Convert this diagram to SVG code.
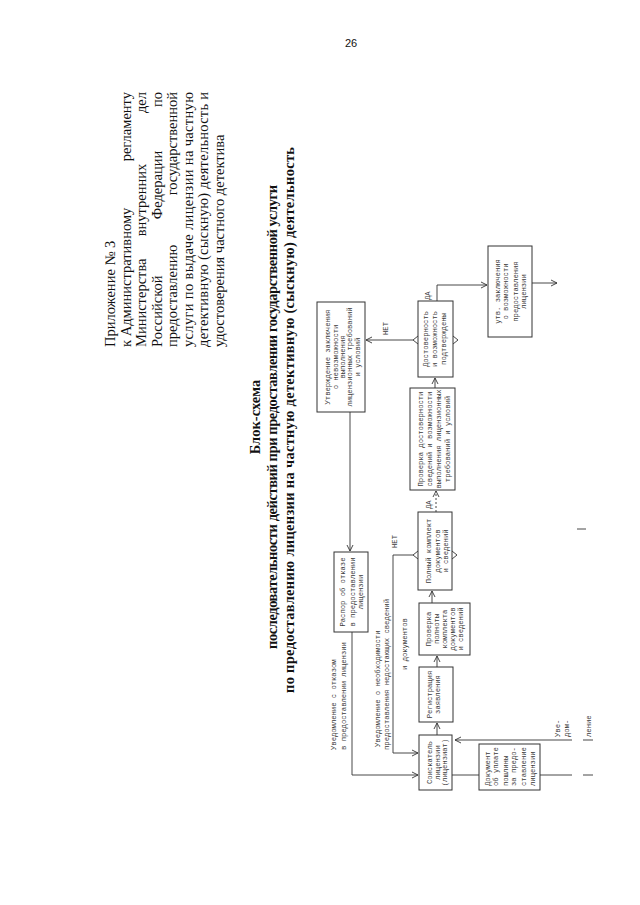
<svg xmlns="http://www.w3.org/2000/svg" width="640" height="905" viewBox="0 0 640 905">
<style>
.hd{font-family:"Liberation Serif",serif;font-size:14.5px;fill:#111}
.tt{font-family:"Liberation Serif",serif;font-size:14.5px;font-weight:bold;fill:#111}
.fc{font-family:"Liberation Mono",monospace;font-size:7.2px;fill:#3a3a3a}
.bx{fill:none;stroke:#333;stroke-width:1}
.ln{fill:none;stroke:#333;stroke-width:0.9}
.ar{fill:none;stroke:#333;stroke-width:0.9}
.dsh{stroke-dasharray:2 2}
</style>
<rect width="640" height="905" fill="#fff"/>
<text x="351" y="47" text-anchor="middle" style="font-family:'Liberation Sans',sans-serif;font-size:11px;fill:#111">26</text>
<g transform="translate(0,905) rotate(-90)">
  <g id="header">
    <text class="hd" x="558" y="115">Приложение № 3</text>
    <text class="hd" x="558" y="130.5">к Административному</text>
    <text class="hd" x="813" y="130.5" text-anchor="end">регламенту</text>
    <text class="hd" x="558" y="146">Министерства</text>
    <text class="hd" x="705" y="146" text-anchor="middle">внутренних</text>
    <text class="hd" x="813" y="146" text-anchor="end">дел</text>
    <text class="hd" x="558" y="161.5">Российской</text>
    <text class="hd" x="720" y="161.5" text-anchor="middle">Федерации</text>
    <text class="hd" x="813" y="161.5" text-anchor="end">по</text>
    <text class="hd" x="558" y="177">предоставлению</text>
    <text class="hd" x="813" y="177" text-anchor="end">государственной</text>
    <text class="hd" x="558" y="192.5" textLength="255" lengthAdjust="spacing">услуги по выдаче лицензии на частную</text>
    <text class="hd" x="558" y="208" textLength="255" lengthAdjust="spacing">детективную (сыскную) деятельность и</text>
    <text class="hd" x="558" y="223.5">удостоверения частного детектива</text>
  </g>
  <g id="title">
    <text class="tt" x="488" y="260" text-anchor="middle">Блок-схема</text>
    <text class="tt" x="256" y="277" textLength="464" lengthAdjust="spacing">последовательности действий при предоставлении государственной услуги</text>
    <text class="tt" x="212" y="294" textLength="546" lengthAdjust="spacing">по предоставлению лицензии на частную детективную (сыскную) деятельность</text>
  </g>
  <g id="connectors">
    <line class="ln" x1="493" y1="350" x2="354" y2="350"/>
    <polyline class="ar" points="360,347 354,350 360,353"/>
    <polyline class="ln" points="273,352 130,352 130,418"/>
    <polyline class="ar" points="127,412 130,418 133,412"/>
    <polyline class="ln" points="350,413 350,393 152,393 152,418"/>
    <polyline class="ar" points="149,412 152,418 155,412"/>
    <line class="ln" x1="170" y1="437" x2="182" y2="437"/>
    <polyline class="ar" points="176,434 182,437 176,440"/>
    <line class="ln" x1="238" y1="437" x2="249" y2="437"/>
    <polyline class="ar" points="243,434 249,437 243,440"/>
    <line class="ln" x1="302" y1="432" x2="314" y2="432"/>
    <polyline class="ar" points="308,429 314,432 308,435"/>
    <line class="ln dsh" x1="393" y1="436" x2="414" y2="436"/>
    <polyline class="ar" points="408,433 414,436 408,439"/>
    <line class="ln" x1="517" y1="435" x2="527" y2="435"/>
    <polyline class="ar" points="521,432 527,435 521,438"/>
    <line class="ln" x1="565" y1="413" x2="565" y2="366"/>
    <polyline class="ar" points="562,372 565,366 568,372"/>
    <polyline class="ln" points="604,437 620,437 620,487"/>
    <polyline class="ar" points="617,481 620,487 623,481"/>
    <line class="ln" x1="622" y1="532" x2="622" y2="557"/>
    <polyline class="ar" points="619,551 622,557 625,551"/>
    <line class="ln" x1="130" y1="452" x2="130" y2="479"/>
    <line class="ln" x1="130" y1="540" x2="130" y2="572"/>
    <line class="ln" x1="130" y1="583" x2="130" y2="593"/>
    <line class="ln" x1="165" y1="455" x2="165" y2="572"/>
    <polyline class="ar" points="162,461 165,455 168,461"/>
    <line class="ln" x1="165" y1="583" x2="165" y2="593"/>
    <line class="ln" x1="376" y1="577" x2="376" y2="586"/>
    <polyline class="ar" points="346,418 350,413 354,418"/>
    <polyline class="ar" points="346,452 350,457 354,452"/>
    <polyline class="ar" points="561,418 565,413 569,418"/>
    <polyline class="ar" points="561,453 565,458 569,453"/>
    <text class="fc" x="357" y="397">НЕТ</text>
    <text class="fc" x="396" y="431">ДА</text>
    <text class="fc" x="570" y="388">НЕТ</text>
    <text class="fc" x="605" y="430">ДА</text>
    <text class="fc" x="155" y="335.5">Уведомление  с  отказом</text>
    <text class="fc" x="155" y="345.5">в предоставлении лицензии</text>
    <text class="fc" x="158" y="380">Уведомление  о  необходимости</text>
    <text class="fc" x="155" y="389">предоставления  недостающих  сведений</text>
    <text class="fc" x="235" y="407">и  документов</text>
    <text class="fc" x="168" y="560">Уве-</text>
    <text class="fc" x="168" y="569">дом-</text>
    <text class="fc" x="168" y="591">ление</text>
  </g>
  <g id="nodeA">
    <rect class="bx" x="493" y="317" width="110" height="48"/>
    <text class="fc" text-anchor="middle" x="548" y="329.5">Утверждение  заключения</text>
    <text class="fc" text-anchor="middle" x="548" y="337.5">о  невозможности</text>
    <text class="fc" text-anchor="middle" x="548" y="344.5">выполнения</text>
    <text class="fc" text-anchor="middle" x="548" y="351.5">лицензионных требований</text>
    <text class="fc" text-anchor="middle" x="548" y="359.5">и  условий</text>
  </g>
  <g id="nodeRaspor">
    <rect class="bx" x="273" y="334" width="80" height="34"/>
    <text class="fc" text-anchor="middle" x="313" y="344.5">Распор об отказе</text>
    <text class="fc" text-anchor="middle" x="313" y="354.5">в предоставлении</text>
    <text class="fc" text-anchor="middle" x="313" y="362.5">лицензии</text>
  </g>
  <g id="nodeB">
    <rect class="bx" x="115" y="419" width="55" height="33"/>
    <text class="fc" text-anchor="middle" x="142.5" y="431.5">Соискатель</text>
    <text class="fc" text-anchor="middle" x="142.5" y="439.5">лицензии</text>
    <text class="fc" text-anchor="middle" x="142.5" y="446.5">(лицензиат)</text>
  </g>
  <g id="nodeC">
    <rect class="bx" x="183" y="419" width="55" height="34"/>
    <text class="fc" text-anchor="middle" x="210.5" y="431.5">Регистрация</text>
    <text class="fc" text-anchor="middle" x="210.5" y="439.5">заявления</text>
  </g>
  <g id="nodeD">
    <rect class="bx" x="250" y="419" width="52" height="51"/>
    <text class="fc" text-anchor="middle" x="276" y="430.5">Проверка</text>
    <text class="fc" text-anchor="middle" x="276" y="438.5">полноты</text>
    <text class="fc" text-anchor="middle" x="276" y="446.5">комплекта</text>
    <text class="fc" text-anchor="middle" x="276" y="454.5">документов</text>
    <text class="fc" text-anchor="middle" x="276" y="462.5">и сведений</text>
  </g>
  <g id="nodeE">
    <rect class="bx" x="315" y="418" width="78" height="34"/>
    <text class="fc" text-anchor="middle" x="354" y="430.5">Полный комплект</text>
    <text class="fc" text-anchor="middle" x="354" y="439.5">документов</text>
    <text class="fc" text-anchor="middle" x="354" y="447.5">и сведений</text>
  </g>
  <g id="nodeF">
    <rect class="bx" x="415" y="410" width="102" height="45"/>
    <text class="fc" text-anchor="middle" x="466" y="422.5">Проверка  достоверности</text>
    <text class="fc" text-anchor="middle" x="466" y="431.5">сведений  и  возможности</text>
    <text class="fc" text-anchor="middle" x="466" y="440.5">выполнения лицензионных</text>
    <text class="fc" text-anchor="middle" x="466" y="449.5">требований  и  условий</text>
  </g>
  <g id="nodeG">
    <rect class="bx" x="528" y="418" width="76" height="35"/>
    <text class="fc" text-anchor="middle" x="566" y="427.5">Достоверность</text>
    <text class="fc" text-anchor="middle" x="566" y="436.5">и возможность</text>
    <text class="fc" text-anchor="middle" x="566" y="445.5">подтверждены</text>
  </g>
  <g id="nodeH">
    <rect class="bx" x="568" y="488" width="91" height="44"/>
    <text class="fc" text-anchor="middle" x="613.5" y="499.5">утв. заключения</text>
    <text class="fc" text-anchor="middle" x="613.5" y="507.5">о возможности</text>
    <text class="fc" text-anchor="middle" x="613.5" y="517.5">предоставления</text>
    <text class="fc" text-anchor="middle" x="613.5" y="525.5">лицензии</text>
  </g>
  <g id="nodeI">
    <rect class="bx" x="115" y="479" width="46" height="61"/>
    <text class="fc" x="119" y="489.5">Документ</text>
    <text class="fc" x="119" y="497.5">об уплате</text>
    <text class="fc" x="119" y="507.5">пошлины</text>
    <text class="fc" x="119" y="515.5">за предо-</text>
    <text class="fc" x="119" y="525.5">ставление</text>
    <text class="fc" x="119" y="534.5">лицензии</text>
  </g>
</g>
</svg>
